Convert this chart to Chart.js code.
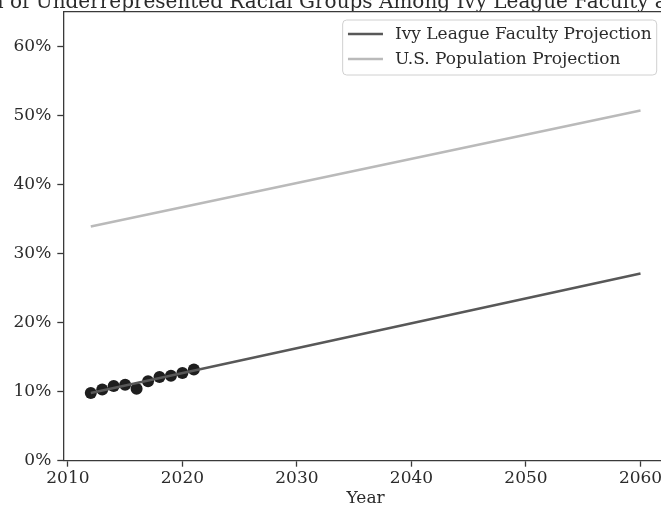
<!DOCTYPE html>
<html>
<head>
<meta charset="utf-8">
<script src="https://cdn.jsdelivr.net/npm/chart.js@4/dist/chart.umd.min.js"></script>
<style>
  html, body { margin: 0; padding: 0; background: #fff; overflow: hidden; }
  canvas { display: block; }
</style>
</head>
<body>
<canvas id="c" width="674" height="512" style="width:674px;height:512px"></canvas>
<script>
// ---- data ----
const titlePrefix = "Proportion ";
const titleText = "Proportion of Underrepresented Racial Groups Among Ivy League Faculty and U.S. Population";
const observedYears = [2012, 2013, 2014, 2015, 2016, 2017, 2018, 2019, 2020, 2021];
const ivyObserved = [9.8, 10.3, 10.8, 11.0, 10.4, 11.5, 12.1, 12.3, 12.7, 13.2];
const projectionYears = [2012, 2060];
const ivyProjection = [9.8, 27.1];
const usProjection = [33.9, 50.7];
const xTickValues = [2010, 2020, 2030, 2040, 2050, 2060];
const yTickValues = [0, 10, 20, 30, 40, 50, 60];
const seriesLabels = ["Ivy League Faculty Projection", "U.S. Population Projection"];

const FONT = "'DejaVu Serif', serif";
const TXT = '#2b2b2b';
const SPINE = '#3a3a3a';
const FS = 17;

const toXY = (xs, ys) => xs.map((x, i) => ({ x: x, y: ys[i] }));

const titlePlugin = {
  id: 'cutTitle',
  afterDraw(chart) {
    const { ctx } = chart;
    ctx.save();
    ctx.font = "20px " + FONT;
    ctx.fillStyle = TXT;
    ctx.textAlign = 'left';
    ctx.textBaseline = 'alphabetic';
    const pre = ctx.measureText(titlePrefix).width;
    ctx.fillText(titleText, 10 - pre, 8);
    ctx.restore();
  }
};

const spinePlugin = {
  id: 'topSpine',
  afterDraw(chart) {
    const { ctx, chartArea } = chart;
    ctx.save();
    ctx.strokeStyle = SPINE;
    ctx.lineWidth = 1.3;
    ctx.beginPath();
    ctx.moveTo(chartArea.left, chartArea.top);
    ctx.lineTo(chartArea.right, chartArea.top);
    ctx.stroke();
    ctx.restore();
  }
};

const legendPlugin = {
  id: 'boxLegend',
  afterDraw(chart) {
    const { ctx, chartArea } = chart;
    const items = chart.data.datasets.filter(d => d.label);
    ctx.save();
    ctx.font = FS + "px " + FONT;
    const textW = Math.max(...items.map(d => ctx.measureText(d.label).width));
    const pad = 5.3, handle = 35, gap = 12, rowH = 25;
    const w = pad + handle + gap + textW + 5;
    const h = 55;
    const x0 = 656.7 - w;
    const y0 = chartArea.top + 8.3;
    ctx.fillStyle = 'rgba(255,255,255,0.85)';
    ctx.strokeStyle = '#d0d0d0';
    ctx.lineWidth = 1;
    ctx.beginPath();
    ctx.roundRect(x0, y0, w, h, 4);
    ctx.fill();
    ctx.stroke();
    items.forEach((d, i) => {
      const cy = y0 + 14 + i * rowH;
      ctx.strokeStyle = d.borderColor;
      ctx.lineWidth = 2.5;
      ctx.beginPath();
      ctx.moveTo(x0 + pad, cy);
      ctx.lineTo(x0 + pad + handle, cy);
      ctx.stroke();
      ctx.fillStyle = TXT;
      ctx.textBaseline = 'middle';
      ctx.textAlign = 'left';
      ctx.fillText(d.label, x0 + pad + handle + gap, cy + 1);
    });
    ctx.restore();
  }
};

new Chart(document.getElementById('c'), {
  data: {
    datasets: [
      { type: 'line', label: seriesLabels[0], data: toXY(projectionYears, ivyProjection), borderColor: '#585858', borderWidth: 2.5, pointRadius: 0, fill: false, order: 0 },
      { type: 'line', label: seriesLabels[1], data: toXY(projectionYears, usProjection), borderColor: '#bababa', borderWidth: 2.5, pointRadius: 0, fill: false, order: 1 },
      { type: 'scatter', data: toXY(observedYears, ivyObserved), backgroundColor: '#1e1e1e', borderWidth: 0, pointRadius: 6, order: 2 }
    ]
  },
  options: {
    responsive: false,
    animation: false,
    layout: { padding: { top: 11.7, left: 0, right: 3, bottom: 0 } },
    plugins: { legend: { display: false }, tooltip: { enabled: false }, title: { display: false } },
    scales: {
      x: {
        type: 'linear', min: 2009.6, max: 2062.4,
        afterBuildTicks: s => { s.ticks = xTickValues.map(v => ({ value: v })); },
        afterFit: s => { s.height = 51.3; s.paddingLeft = 0; s.paddingRight = 0; },
        grid: { drawOnChartArea: false, drawTicks: true, tickLength: 6, tickWidth: 1.3, tickColor: SPINE },
        border: { display: true, color: SPINE, width: 1.3 },
        ticks: { color: TXT, font: { family: FONT, size: FS }, padding: 2, maxRotation: 0, callback: v => String(v) },
        title: { display: true, text: 'Year', color: TXT, font: { family: FONT, size: FS }, padding: { top: 0, bottom: 3.5 } }
      },
      y: {
        type: 'linear', min: 0, max: 65,
        afterBuildTicks: s => { s.ticks = yTickValues.map(v => ({ value: v })); },
        afterFit: s => { s.width = 63.3; s.paddingTop = 0; s.paddingBottom = 0; },
        grid: { drawOnChartArea: false, drawTicks: true, tickLength: 6, tickWidth: 1.3, tickColor: SPINE },
        border: { display: true, color: SPINE, width: 1.3 },
        ticks: { color: TXT, font: { family: FONT, size: FS }, padding: 6, callback: v => v + '%' }
      }
    }
  },
  plugins: [titlePlugin, spinePlugin, legendPlugin]
});
</script>
</body>
</html>
